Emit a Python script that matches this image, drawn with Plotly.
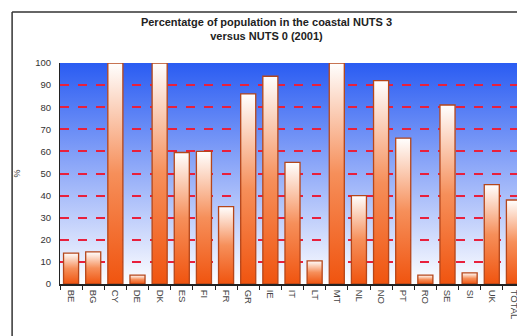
import base64
import plotly.graph_objects as go

countries = ['BE', 'BG', 'CY', 'DE', 'DK', 'ES', 'FI', 'FR', 'GR', 'IE', 'IT',
             'LT', 'MT', 'NL', 'NO', 'PT', 'RO', 'SE', 'SI', 'UK', 'TOTAL']
pct_coastal = [14, 14.5, 100, 4, 100, 59.5, 60, 35, 86, 94, 55,
               10.5, 100, 40, 92, 66, 4, 81, 5, 45, 38]

BAR_HALF = 0.34

fig = go.Figure()

# bars: one filled polygon per country so each gets its own white->orange gradient
for i, (c, v) in enumerate(zip(countries, pct_coastal)):
    fig.add_trace(go.Scatter(
        x=[i - BAR_HALF, i - BAR_HALF, i + BAR_HALF, i + BAR_HALF, i - BAR_HALF],
        y=[0, v, v, 0, 0],
        mode='lines',
        fill='toself',
        fillgradient=dict(type='vertical',
                          colorscale=[[0, '#f0540f'], [0.5, '#f68f5a'], [1, '#ffffff']]),
        line=dict(color='#b5461a', width=1.3),
        name=c,
        hoverinfo='skip',
        showlegend=False,
    ))

# blue-to-white background of the plot area
svg = ('<svg xmlns="http://www.w3.org/2000/svg" width="100" height="100" preserveAspectRatio="none">'
       '<defs><linearGradient id="g" x1="0" y1="0" x2="0" y2="1">'
       '<stop offset="0" stop-color="#2a5cf2"/><stop offset="1" stop-color="#ffffff"/>'
       '</linearGradient></defs><rect width="100" height="100" fill="url(#g)"/></svg>')
bg = 'data:image/svg+xml;base64,' + base64.b64encode(svg.encode()).decode()

# the page puts the figure 8px in from the top-left corner
fig.update_layout(
    width=517, height=328,
    margin=dict(l=52, r=0, t=55, b=52),
    paper_bgcolor='white',
    plot_bgcolor='rgba(0,0,0,0)',
    font=dict(family='Arial, Liberation Sans', color='#333333', size=9),
    title=dict(text='<b>Percentatge of population in the coastal NUTS 3<br>versus NUTS 0 (2001)</b>',
               x=0.5, xanchor='center', y=0.945, yanchor='top',
               font=dict(size=11, color='#222222')),
    images=[dict(source=bg, xref='paper', yref='paper', x=0, y=1, sizex=1, sizey=1,
                 sizing='stretch', layer='below', xanchor='left', yanchor='top')],
    shapes=[
        dict(type='line', xref='paper', yref='paper', x0=-0.103, x1=1.02, y0=1.231, y1=1.231,
             line=dict(color='#333333', width=1.5)),
        dict(type='line', xref='paper', yref='paper', x0=-0.103, x1=-0.103, y0=1.231, y1=-0.3,
             line=dict(color='#333333', width=1.5)),
    ],
)

fig.update_xaxes(
    range=[-0.5, 20.5], automargin=False,
    tickmode='array', tickvals=list(range(len(countries))), ticktext=countries,
    tickangle=90, ticks='', showgrid=False, zeroline=False,
    showline=True, linecolor='#222222', linewidth=1.5,
    minor=dict(ticks='outside', tick0=-0.5, dtick=1, ticklen=4, tickcolor='#222222', showgrid=False),
    tickfont=dict(size=9.5, color='#444444'),
    ticklabelstandoff=2,
    fixedrange=True,
)
fig.update_yaxes(
    range=[0, 100], dtick=10, automargin=False,
    title=dict(text='%', font=dict(size=9), standoff=12),
    showgrid=True, gridcolor='#e8203c', griddash='dash', gridwidth=1.6,
    zeroline=False, showline=True, linecolor='#222222', linewidth=1.2,
    ticks='', tickfont=dict(size=9.5, color='#333333'),
    ticklabelstandoff=6,
    fixedrange=True,
)

fig.write_html("out.html")
